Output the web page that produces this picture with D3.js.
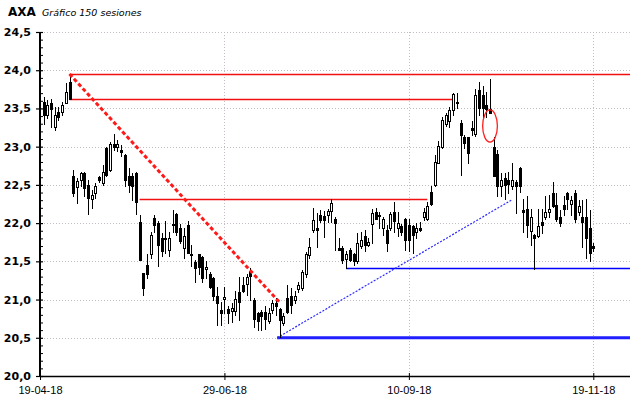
<!DOCTYPE html>
<html>
<head>
<meta charset="utf-8">
<script src="https://cdn.jsdelivr.net/npm/d3@7"></script>
<style>
  html, body { margin: 0; padding: 0; background: #fff; }
  svg { display: block; }
</style>
</head>
<body>
<svg id="chart" width="640" height="398"></svg>
<script>
// ---- Data (150 sessions, index 1..150) ----
const title = "AXA";
const subtitle = "Gráfico 150 sesiones";
const open = [23.59,23.42,23.57,23.26,23.46,23.46,23.57,23.85,22.62,22.47,
  22.57,22.65,22.50,22.31,22.40,22.60,22.53,22.98,22.70,23.04,
  23.00,22.96,22.89,22.61,22.61,22.65,22.02,21.35,21.45,21.59,
  22.07,22.00,21.81,21.81,21.65,21.99,22.12,21.93,21.68,21.98,
  21.60,21.49,21.59,21.56,21.40,21.34,21.28,21.04,20.86,21.01,
  20.88,20.85,20.85,21.10,21.19,21.20,21.37,20.99,20.82,20.84,
  20.84,20.72,20.86,20.95,20.88,20.69,21.02,21.04,20.99,21.14,
  21.15,21.33,21.58,21.91,21.94,22.10,22.09,22.10,22.16,22.05,
  21.67,21.67,21.53,21.65,21.60,21.50,21.70,21.83,21.71,21.99,
  22.14,22.11,21.94,21.91,21.94,22.15,21.94,21.96,22.05,21.98,
  21.96,21.88,21.94,22.08,22.06,22.41,22.50,22.78,23.00,23.29,
  23.33,23.48,23.59,23.31,23.13,23.13,23.24,23.17,23.74,23.68,
  23.55,23.49,22.99,22.91,22.49,22.59,22.57,22.49,22.54,22.72,
  22.17,22.19,21.90,21.84,21.83,22.02,22.08,22.14,22.39,22.24,
  22.08,22.24,22.39,22.25,22.40,22.15,22.08,22.08,21.93,21.70];
const high = [23.65,23.61,23.63,23.52,23.52,23.59,23.83,23.95,22.70,22.59,
  22.67,22.67,22.57,22.43,22.52,22.61,22.76,23.00,23.06,23.16,
  23.09,23.02,22.91,22.72,22.66,22.67,22.11,21.35,21.59,21.89,
  22.10,22.03,21.87,22.03,21.89,22.17,22.13,21.99,21.94,22.03,
  21.72,21.52,21.60,21.57,21.50,21.36,21.29,21.16,20.97,21.17,
  20.91,20.95,21.11,21.30,21.30,21.34,21.41,21.02,20.84,20.86,
  20.91,20.89,20.99,21.02,20.89,20.82,21.19,21.15,21.11,21.23,
  21.39,21.62,21.80,22.20,22.13,22.17,22.16,22.19,22.31,22.08,
  21.80,21.70,21.64,21.67,21.61,21.87,21.89,21.91,21.81,22.18,
  22.20,22.15,22.08,21.98,22.15,22.28,22.15,21.99,22.07,22.05,
  21.98,22.00,22.02,22.20,22.28,22.48,22.89,23.07,23.39,23.44,
  23.52,23.70,23.70,23.35,23.15,23.13,23.34,23.75,23.84,23.79,
  23.72,23.89,23.13,22.96,22.65,22.65,22.67,22.78,22.56,22.74,
  22.32,22.35,22.19,21.86,22.19,22.18,22.35,22.37,22.54,22.39,
  22.17,22.35,22.41,22.35,22.43,22.30,22.30,22.31,22.17,21.74];
const low = [23.30,23.37,23.26,23.22,23.35,23.41,23.57,23.63,22.35,22.26,
  22.48,22.35,22.12,22.20,22.33,22.54,22.50,22.61,22.68,22.96,
  22.94,22.88,22.48,22.41,22.30,22.12,21.52,21.06,21.28,21.54,
  21.89,21.44,21.57,21.61,21.57,21.89,21.85,21.74,21.54,21.61,
  21.44,21.23,21.34,21.23,21.28,21.15,20.99,20.67,20.67,20.82,
  20.69,20.71,20.80,20.73,21.10,21.06,20.99,20.64,20.60,20.60,
  20.62,20.69,20.82,20.80,20.51,20.67,20.82,20.82,20.95,21.10,
  21.12,21.30,21.55,21.89,21.69,22.02,21.82,22.02,22.02,21.65,
  21.65,21.48,21.41,21.50,21.45,21.48,21.67,21.64,21.70,21.74,
  22.05,21.94,21.85,21.63,21.91,21.89,21.83,21.85,21.65,21.63,
  21.61,21.81,21.90,22.04,22.04,22.24,22.48,22.78,22.98,23.27,
  23.26,23.41,23.50,22.63,22.98,22.78,23.15,23.14,23.41,23.39,
  23.39,23.44,22.61,22.35,22.35,22.32,22.39,22.45,22.13,22.41,
  21.89,21.82,21.71,21.40,21.82,21.87,22.06,22.08,22.21,22.03,
  21.96,22.11,22.19,22.11,22.02,22.11,21.69,21.54,21.50,21.63];
const close = [23.41,23.55,23.49,23.41,23.39,23.54,23.71,23.63,22.40,22.55,
  22.65,22.46,22.33,22.37,22.49,22.56,22.67,22.63,23.04,22.99,
  23.03,22.93,22.57,22.50,22.48,22.28,21.52,21.15,21.33,21.84,
  21.98,21.72,21.63,21.80,21.81,21.97,21.89,21.76,21.83,21.61,
  21.58,21.41,21.43,21.28,21.43,21.17,21.04,20.95,20.82,21.03,
  20.82,20.89,21.01,20.97,21.11,21.30,21.31,20.75,20.72,20.78,
  20.75,20.83,20.95,20.91,20.73,20.78,20.84,20.93,21.05,21.19,
  21.36,21.59,21.69,22.04,21.91,22.04,22.04,22.16,22.26,22.00,
  21.65,21.52,21.60,21.52,21.51,21.74,21.78,21.72,21.75,22.13,
  22.06,22.10,22.05,21.74,22.12,22.03,22.00,21.88,21.78,21.78,
  21.85,21.93,21.91,22.15,22.22,22.25,22.80,23.01,23.35,23.41,
  23.48,23.69,23.57,23.15,23.05,22.92,23.22,23.68,23.50,23.50,
  23.49,23.44,22.61,22.48,22.57,22.50,22.51,22.56,22.48,22.49,
  22.15,21.97,22.08,21.80,21.96,21.97,22.14,22.18,22.22,22.05,
  22.00,22.19,22.31,22.30,22.05,22.22,22.01,21.81,21.61,21.68];

const yMajor = [20.0,20.5,21.0,21.5,22.0,22.5,23.0,23.5,24.0,24.5];
const xTickIdx = [0, 50, 100, 150];
const xTickLabels = ["19-04-18","29-06-18","10-09-18","19-11-18"];

// Drawn annotations (session index, price); to: null = up to the right edge of the plot
const redHLines = [ {from: 8, to: null, price: 23.95}, {from: 8, to: 112, price: 23.62}, {from: 27, to: 105, price: 22.31} ];
const redDashed = {x1: 8, p1: 23.95, x2: 65, p2: 20.96};
const blueDotted = {x1: 64.3, p1: 20.50, x2: 128.1, p2: 22.31};
const blueSupportThick = {from: 64.3, price: 20.50};
const blueSupportThin = {from: 83, price: 21.41};
const gapEllipse = {idx: 122, price: 23.27, rIdx: 2, rPrice: 0.21};

(function draw() {
// ---- Layout ----
const pL = 40, pR = 630, pT = 32, pB = 376;
const svg = d3.select("#chart");

const x = d3.scaleLinear().domain([0, 150]).range([pL, 593.3]);
const y = d3.scaleLinear().domain([20, 24.5]).range([pB, pT]);

const fmt = v => d3.format(".1f")(v).replace(".", ",");

// Grid
const grid = svg.append("g");
grid.selectAll("line.h").data(yMajor.filter(v => v > 20)).join("line")
  .attr("x1", pL + 1).attr("x2", pR)
  .attr("y1", d => Math.round(y(d)) + 0.5).attr("y2", d => Math.round(y(d)) + 0.5)
  .attr("stroke", "#c4bcc4").attr("stroke-dasharray", "1,2").attr("stroke-width", 1);
grid.selectAll("line.v").data(xTickIdx.filter(v => v > 0)).join("line")
  .attr("x1", d => Math.round(x(d)) + 0.5).attr("x2", d => Math.round(x(d)) + 0.5)
  .attr("y1", pT).attr("y2", pB)
  .attr("stroke", "#c4bcc4").attr("stroke-dasharray", "1,2").attr("stroke-width", 1);

// Annotation lines beneath candles
const ann = svg.append("g");
ann.append("line")
  .attr("x1", x(blueSupportThick.from)).attr("x2", pR)
  .attr("y1", y(blueSupportThick.price)).attr("y2", y(blueSupportThick.price))
  .attr("stroke", "#1f1fff").attr("stroke-width", 3);
ann.append("line")
  .attr("x1", x(blueSupportThin.from)).attr("x2", pR)
  .attr("y1", Math.round(y(blueSupportThin.price)) + 0.5).attr("y2", Math.round(y(blueSupportThin.price)) + 0.5)
  .attr("stroke", "#0000ff").attr("stroke-width", 1.6);
ann.append("line")
  .attr("x1", x(blueDotted.x1)).attr("y1", y(blueDotted.p1))
  .attr("x2", x(blueDotted.x2)).attr("y2", y(blueDotted.p2))
  .attr("stroke", "#2a2aff").attr("stroke-width", 1.2).attr("stroke-dasharray", "2,1.5");
ann.selectAll("line.red").data(redHLines).join("line")
  .attr("x1", d => x(d.from)).attr("x2", d => d.to == null ? pR : x(d.to))
  .attr("y1", d => Math.round(y(d.price)) + 0.5).attr("y2", d => Math.round(y(d.price)) + 0.5)
  .attr("stroke", "#f01010").attr("stroke-width", 1.4);

// Candles
const data = open.map((o, i) => ({i: i + 1, o, h: high[i], l: low[i], c: close[i]}));
const cg = svg.append("g");
data.forEach(d => {
  const cx = Math.round(x(d.i));
  const yh = Math.round(y(d.h)), yl = Math.round(y(d.l));
  const yo = Math.round(y(d.o)), yc = Math.round(y(d.c));
  const bt = Math.min(yo, yc), bb = Math.max(yo, yc);
  cg.append("line").attr("x1", cx + 0.5).attr("x2", cx + 0.5)
    .attr("y1", yh).attr("y2", yl + 1).attr("stroke", "#000").attr("stroke-width", 1);
  if (d.c >= d.o) {
    cg.append("rect").attr("x", cx - 0.5).attr("y", bt + 0.5)
      .attr("width", 2).attr("height", Math.max(1, bb - bt))
      .attr("fill", "#fff").attr("stroke", "#000").attr("stroke-width", 1);
  } else {
    cg.append("rect").attr("x", cx - 1).attr("y", bt)
      .attr("width", 3).attr("height", Math.max(2, bb - bt + 1))
      .attr("fill", "#000");
  }
});

// Red dashed trend line and ellipse on top
svg.append("line")
  .attr("x1", x(redDashed.x1)).attr("y1", y(redDashed.p1))
  .attr("x2", x(redDashed.x2)).attr("y2", y(redDashed.p2))
  .attr("stroke", "#ff1a1a").attr("stroke-width", 3).attr("stroke-dasharray", "4,2.5");
svg.append("ellipse")
  .attr("cx", x(gapEllipse.idx)).attr("cy", y(gapEllipse.price))
  .attr("rx", x(gapEllipse.idx + gapEllipse.rIdx) - x(gapEllipse.idx))
  .attr("ry", y(gapEllipse.price - gapEllipse.rPrice) - y(gapEllipse.price))
  .attr("fill", "none").attr("stroke", "#ff2020").attr("stroke-width", 1.3);

// Axes
const yAxis = svg.append("g").attr("transform", `translate(${pL},0)`)
  .call(d3.axisLeft(y).tickValues(yMajor).tickFormat(fmt).tickSizeOuter(0).tickSize(4).tickPadding(5));
yAxis.select(".domain").remove();
yAxis.selectAll(".tick line").attr("x1", -4).attr("x2", 3).attr("stroke", "#000").attr("stroke-width", 1.2);
yAxis.selectAll(".tick text")
  .attr("font-family", "'DejaVu Sans', Verdana, sans-serif").attr("font-weight", "bold")
  .attr("font-size", "11px").attr("fill", "#000");
const yMinor = d3.range(200, 246, 1).map(v => v / 10).filter(v => Math.abs(v * 2 - Math.round(v * 2)) > 1e-6);
const yMin = svg.append("g").attr("transform", `translate(${pL},0)`)
  .call(d3.axisLeft(y).tickValues(yMinor).tickFormat("").tickSizeOuter(0).tickSize(0));
yMin.select(".domain").remove();
yMin.selectAll(".tick line").attr("x1", 0).attr("x2", 3).attr("stroke", "#000").attr("stroke-width", 1);
svg.append("line").attr("x1", pL).attr("x2", pL).attr("y1", pT).attr("y2", pB + 1)
  .attr("stroke", "#000").attr("stroke-width", 2);

const xAxis = svg.append("g").attr("transform", `translate(0,${pB})`)
  .call(d3.axisBottom(x).tickValues(xTickIdx).tickFormat((d, i) => xTickLabels[i]).tickSizeOuter(0).tickSize(4).tickPadding(6));
xAxis.select(".domain").remove();
xAxis.selectAll(".tick line").attr("y1", -3).attr("y2", 4).attr("stroke", "#000");
xAxis.selectAll(".tick text")
  .attr("font-family", "'Liberation Sans', Arial, sans-serif")
  .attr("font-size", "11px").attr("fill", "#000");
svg.append("line").attr("x1", pL).attr("x2", pR).attr("y1", pB + 0.5).attr("y2", pB + 0.5)
  .attr("stroke", "#000").attr("stroke-width", 1.5);

// Title
svg.append("text").attr("x", 8).attr("y", 16)
  .attr("font-family", "'DejaVu Sans', Verdana, sans-serif").attr("font-weight", "bold")
  .attr("font-size", "12px").attr("fill", "#000").text(title);
svg.append("text").attr("x", 42).attr("y", 15.5)
  .attr("font-family", "'DejaVu Sans', Verdana, sans-serif").attr("font-style", "italic")
  .attr("font-size", "9.5px").attr("fill", "#000").text(subtitle);
})();
</script>
</body>
</html>
